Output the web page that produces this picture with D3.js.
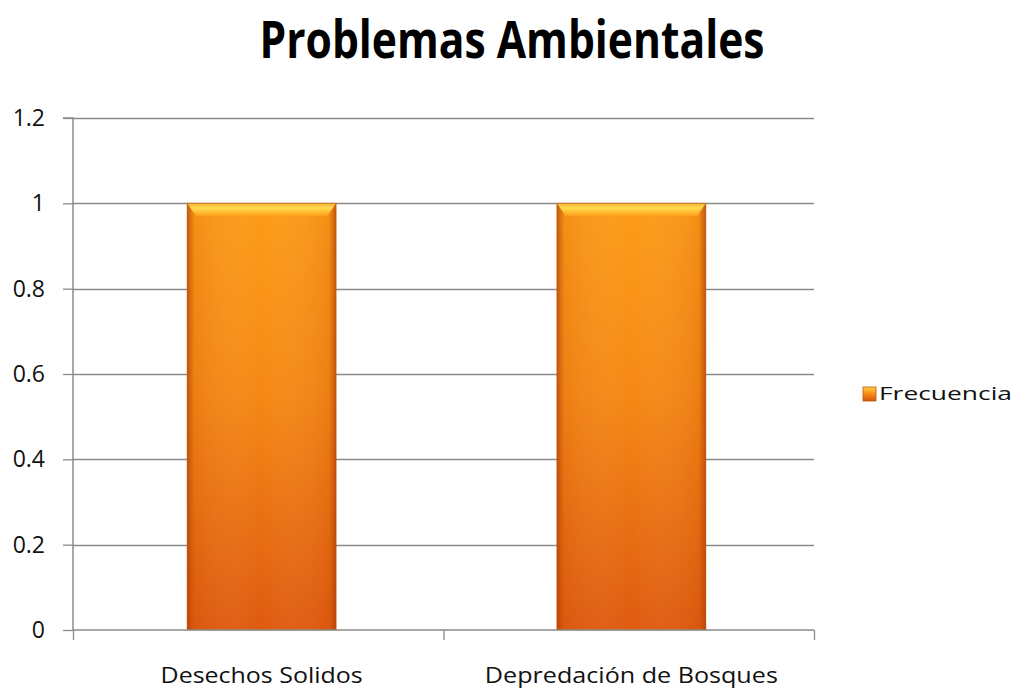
<!DOCTYPE html>
<html>
<head>
<meta charset="utf-8">
<script src="https://cdn.jsdelivr.net/npm/d3@7"></script>
<style>
  html, body { margin: 0; padding: 0; background: #fff; }
  svg { display: block; }
</style>
</head>
<body>
<svg id="chart" width="1016" height="690"></svg>
<script>
const categories = ["Desechos Solidos", "Depredación de Bosques"];
const frecuencia = [1, 1];
const seriesName = "Frecuencia";
const yTicks = [0, 0.2, 0.4, 0.6, 0.8, 1, 1.2];
const yTickLabels = ["0", "0.2", "0.4", "0.6", "0.8", "1", "1.2"];
const title = "Problemas Ambientales";

const svg = d3.select("#chart");
const plot = { left: 73, right: 814, top: 118, bottom: 630 };
const axisColor = "#8a8a8a";
const font = "'Open Sans', 'Noto Sans', sans-serif";

const x = d3.scaleBand().domain(categories)
  .range([72.5, 820.5]).paddingInner(0.597).paddingOuter(0.31);
const y = d3.scaleLinear().domain([0, 1.2]).range([plot.bottom, plot.top]);

// defs: gradients
const defs = svg.append("defs");
const vg = defs.append("linearGradient").attr("id", "barV").attr("x1", 0).attr("y1", 0).attr("x2", 0).attr("y2", 1);
vg.append("stop").attr("offset", "0%").attr("stop-color", "#fd9c17");
vg.append("stop").attr("offset", "45%").attr("stop-color", "#f58814");
vg.append("stop").attr("offset", "100%").attr("stop-color", "#df5a0f");
const hg = defs.append("linearGradient").attr("id", "barH").attr("x1", 0).attr("y1", 0).attr("x2", 1).attr("y2", 0);
hg.append("stop").attr("offset", "0%").attr("stop-color", "#a83a05").attr("stop-opacity", 0.7);
hg.append("stop").attr("offset", "5%").attr("stop-color", "#c04a08").attr("stop-opacity", 0.15);
hg.append("stop").attr("offset", "50%").attr("stop-color", "#ffffff").attr("stop-opacity", 0.0);
hg.append("stop").attr("offset", "95%").attr("stop-color", "#c04a08").attr("stop-opacity", 0.15);
hg.append("stop").attr("offset", "100%").attr("stop-color", "#a83a05").attr("stop-opacity", 0.7);
const tg = defs.append("linearGradient").attr("id", "barTop").attr("x1", 0).attr("y1", 0).attr("x2", 0).attr("y2", 1);
tg.append("stop").attr("offset", "0%").attr("stop-color", "#f3ae34");
tg.append("stop").attr("offset", "35%").attr("stop-color", "#ffdc50");
tg.append("stop").attr("offset", "100%").attr("stop-color", "#fd9c17");
const lg = defs.append("linearGradient").attr("id", "legG").attr("x1", 0).attr("y1", 0).attr("x2", 0).attr("y2", 1);
lg.append("stop").attr("offset", "0%").attr("stop-color", "#ffd040");
lg.append("stop").attr("offset", "45%").attr("stop-color", "#f8901a");
lg.append("stop").attr("offset", "100%").attr("stop-color", "#d8520e");

// gridlines
svg.append("g").selectAll("line").data(yTicks.slice(1)).join("line")
  .attr("x1", plot.left).attr("x2", plot.right)
  .attr("y1", d => Math.round(y(d)) + 0.5).attr("y2", d => Math.round(y(d)) + 0.5)
  .attr("stroke", axisColor).attr("stroke-width", 1.3);

// bars
const bars = svg.append("g");
categories.forEach((c, i) => {
  const bx = x(c), bw = x.bandwidth(), by = y(frecuencia[i]), bh = y(0) - y(frecuencia[i]);
  bars.append("rect").attr("x", bx).attr("y", by).attr("width", bw).attr("height", bh).attr("fill", "url(#barV)");
  bars.append("rect").attr("x", bx).attr("y", by).attr("width", bw).attr("height", bh).attr("fill", "url(#barH)");
  bars.append("path")
    .attr("d", `M${bx},${by} L${bx + bw},${by} L${bx + bw - 9},${by + 13} L${bx + 9},${by + 13} Z`)
    .attr("fill", "url(#barTop)");
  bars.append("rect").attr("x", bx).attr("y", by).attr("width", bw).attr("height", bh)
    .attr("fill", "none").attr("stroke", "#b8500c").attr("stroke-opacity", 0.5).attr("stroke-width", 1);
});

// y axis
const yAxis = d3.axisLeft(y).tickValues(yTicks).tickFormat((d, i) => yTickLabels[i]).tickSize(10).tickPadding(18);
const gy = svg.append("g").attr("transform", `translate(${plot.left},0)`).call(yAxis);
gy.select(".domain").attr("stroke", axisColor).attr("stroke-width", 1.5).attr("d", `M-10,${plot.top}H0V${plot.bottom}`);
gy.selectAll(".tick line").attr("stroke", axisColor).attr("stroke-width", 1.3);
gy.selectAll(".tick text").attr("font-family", font).attr("font-size", 23).attr("fill", "#111");

// x axis
const xAxis = d3.axisBottom(d3.scaleLinear().domain([0, categories.length]).range([plot.left, plot.right]))
  .tickValues(d3.range(categories.length + 1)).tickSize(10).tickFormat("");
const gx = svg.append("g").attr("transform", `translate(0,${plot.bottom})`).call(xAxis);
gx.select(".domain").attr("stroke", axisColor).attr("stroke-width", 1.5).attr("d", `M${plot.left},0H${plot.right}`);
gx.selectAll(".tick line").attr("stroke", axisColor).attr("stroke-width", 1.3);

const catWidths = [202, 293];
svg.append("g").selectAll("text").data(categories).join("text")
  .attr("x", d => x(d) + x.bandwidth() / 2).attr("y", 683)
  .attr("text-anchor", "middle").attr("font-family", font).attr("font-size", 22).attr("fill", "#111")
  .attr("textLength", (d, i) => catWidths[i]).attr("lengthAdjust", "spacingAndGlyphs")
  .text(d => d);

// title
svg.append("text").attr("x", 512).attr("y", 58).attr("text-anchor", "middle")
  .attr("font-family", font).attr("font-weight", "bold").attr("font-size", 52).attr("fill", "#000")
  .attr("textLength", 505).attr("lengthAdjust", "spacingAndGlyphs")
  .text(title);

// legend
const leg = svg.append("g");
leg.append("rect").attr("x", 863).attr("y", 387).attr("width", 13).attr("height", 14)
  .attr("fill", "url(#legG)").attr("stroke", "#c0560c").attr("stroke-width", 0.8);
leg.append("text").attr("x", 879).attr("y", 400).attr("font-family", font).attr("font-size", 19).attr("fill", "#111")
  .attr("textLength", 133).attr("lengthAdjust", "spacingAndGlyphs")
  .text(seriesName);
</script>
</body>
</html>
